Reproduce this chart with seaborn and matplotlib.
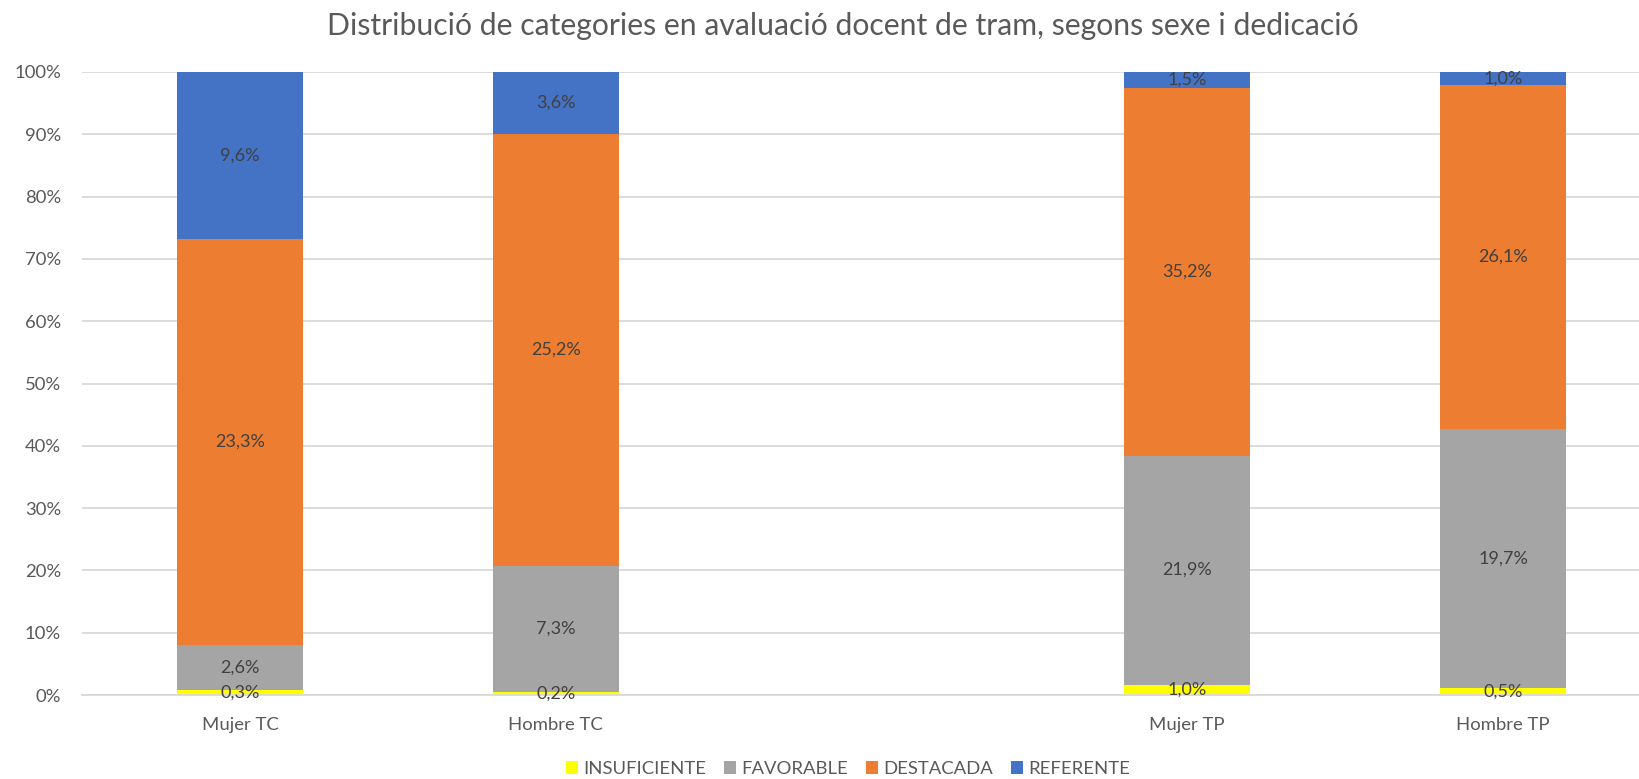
import numpy as np
import pandas as pd
import matplotlib
matplotlib.use("Agg")
import matplotlib.pyplot as plt
from matplotlib.patches import Patch
import seaborn as sns

# ---- data ----
categories = ["Mujer TC", "Hombre TC", "Mujer TP", "Hombre TP"]
slot_order = ["Mujer TC", "Hombre TC", " ", "Mujer TP", "Hombre TP"]
series = ["INSUFICIENTE", "FAVORABLE", "DESTACADA", "REFERENTE"]
insuficiente = [0.3, 0.2, 1.0, 0.5]
favorable = [2.6, 7.3, 21.9, 19.7]
destacada = [23.3, 25.2, 35.2, 26.1]
referente = [9.6, 3.6, 1.5, 1.0]
colors = ["#FFFF00", "#A5A5A5", "#ED7D31", "#4472C4"]
title = "Distribució de categories en avaluació docent de tram, segons sexe i dedicació"
yticks = list(range(0, 101, 10))

values = {"INSUFICIENTE": insuficiente, "FAVORABLE": favorable,
          "DESTACADA": destacada, "REFERENTE": referente}

rows = []
totals = [sum(values[s][i] for s in series) for i in range(len(categories))]
for i, c in enumerate(categories):
    base = 0.0
    for s in series:
        v = values[s][i]
        share = v / totals[i] * 100
        rows.append({"cat": c, "series": s, "value": v, "share": share,
                     "bottom": base, "top": base + share})
        base += share
df = pd.DataFrame(rows)

sns.set_theme(style="white")
plt.rcParams["font.family"] = ["Lato", "DejaVu Sans"]

fig = plt.figure(figsize=(16.4, 7.79), dpi=100)
ax = fig.add_axes([82 / 1640, 84 / 779, 1579 / 1640, 623 / 779])

# stacked bars: draw cumulative tops from the topmost series down
for s, col in reversed(list(zip(series, colors))):
    sub = df[df["series"] == s]
    sns.barplot(data=sub, x="cat", y="top", order=slot_order, color=col,
                width=0.4, ax=ax, saturation=1, linewidth=0, errorbar=None)

# data labels
for _, r in df.iterrows():
    xpos = slot_order.index(r["cat"])
    ax.text(xpos, r["bottom"] + r["share"] / 2,
            f"{r['value']:.1f}%".replace(".", ","),
            ha="center", va="center", fontsize=13, color="#404040")

ax.set_xlim(-0.5, len(slot_order) - 0.5)
ax.set_ylim(0, 100)
ax.set_yticks(yticks)
ax.set_yticklabels([f"{t}%" for t in yticks])
ax.set_xlabel("")
ax.set_ylabel("")
ax.yaxis.grid(True, color="#D9D9D9", linewidth=1.3)
ax.set_axisbelow(True)
for sp in ["top", "right", "left"]:
    ax.spines[sp].set_visible(False)
ax.spines["bottom"].set_color("#D9D9D9")
ax.spines["bottom"].set_linewidth(1.3)

ax.set_xticks(np.arange(-0.5, len(slot_order)), minor=True)
ax.tick_params(axis="x", which="minor", length=6, width=1.3, color="#D9D9D9", direction="out")
ax.tick_params(axis="x", which="major", length=0, pad=16, labelsize=13.3, labelcolor="#595959")
ax.tick_params(axis="y", length=0, pad=15, labelsize=13.3, labelcolor="#595959")

fig.text(843 / 1640, 1 - 26 / 779, title, ha="center", va="center",
         fontsize=21.7, color="#595959")

handles = [Patch(facecolor=c, edgecolor="none") for c in colors]
fig.legend(handles, series, loc="center", bbox_to_anchor=(848 / 1640, 1 - 769 / 779),
           ncol=4, frameon=False, handlelength=0.65, handleheight=0.65,
           handletextpad=0.25, columnspacing=1.0, fontsize=13.3, labelcolor="#595959")

fig.savefig("out.png", dpi=100)
